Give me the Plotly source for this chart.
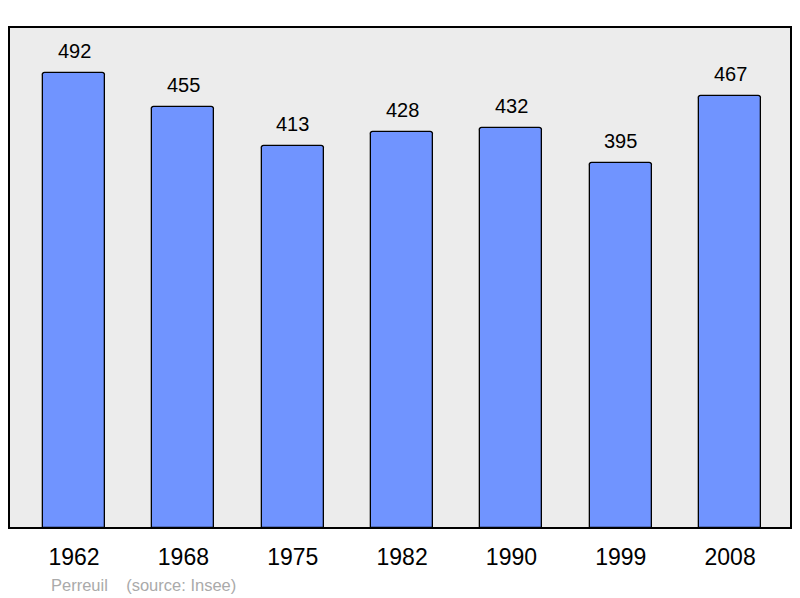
import plotly.graph_objects as go

years = ["1962", "1968", "1975", "1982", "1990", "1999", "2008"]
population = [492, 455, 413, 428, 432, 395, 467]
commune = "Perreuil"
source = "(source: Insee)"

fig = go.Figure()
fig.add_trace(go.Bar(
    x=list(range(len(years))), y=population, width=0.567,
    marker=dict(color="#7094ff", line=dict(color="black", width=1.3), cornerradius=3),
    hoverinfo="skip",
))
for i, v in enumerate(population):
    fig.add_annotation(x=i, y=v, text=str(v), showarrow=False, yanchor="bottom", yshift=9,
                       font=dict(size=20, color="black", family="Liberation Sans, Arial"))

fig.add_annotation(xref="paper", yref="paper", x=(49-9)/782, y=-(585-528)/501, xanchor="left", yanchor="middle",
                   text=commune + "&nbsp;&nbsp;&nbsp;&nbsp;" + source, showarrow=False,
                   font=dict(size=16.5, color="#aaaaaa", family="Liberation Sans, Arial"))

fig.add_shape(type="rect", xref="paper", yref="paper", x0=0, y0=0, x1=1, y1=1,
              line=dict(color="black", width=2), layer="above")

fig.update_layout(
    width=800, height=598,
    margin=dict(l=9, r=9, t=27, b=70),
    plot_bgcolor="#ececec", paper_bgcolor="white",
    showlegend=False, bargap=0,
    font=dict(family="Liberation Sans, Arial", color="black"),
    xaxis=dict(range=[-0.595, 6.557], tickmode="array", tickvals=list(range(len(years))), ticktext=years,
               ticks="outside", ticklen=8, tickcolor="rgba(0,0,0,0)", tickfont=dict(size=23),
               showgrid=False, zeroline=False, showline=False, fixedrange=True),
    yaxis=dict(range=[0, 541.7], visible=False, showgrid=False, zeroline=False, fixedrange=True),
)
fig.write_html("out.html", config={"displayModeBar": False},
               post_script="document.body.style.margin='0';document.body.style.overflow='hidden';")
